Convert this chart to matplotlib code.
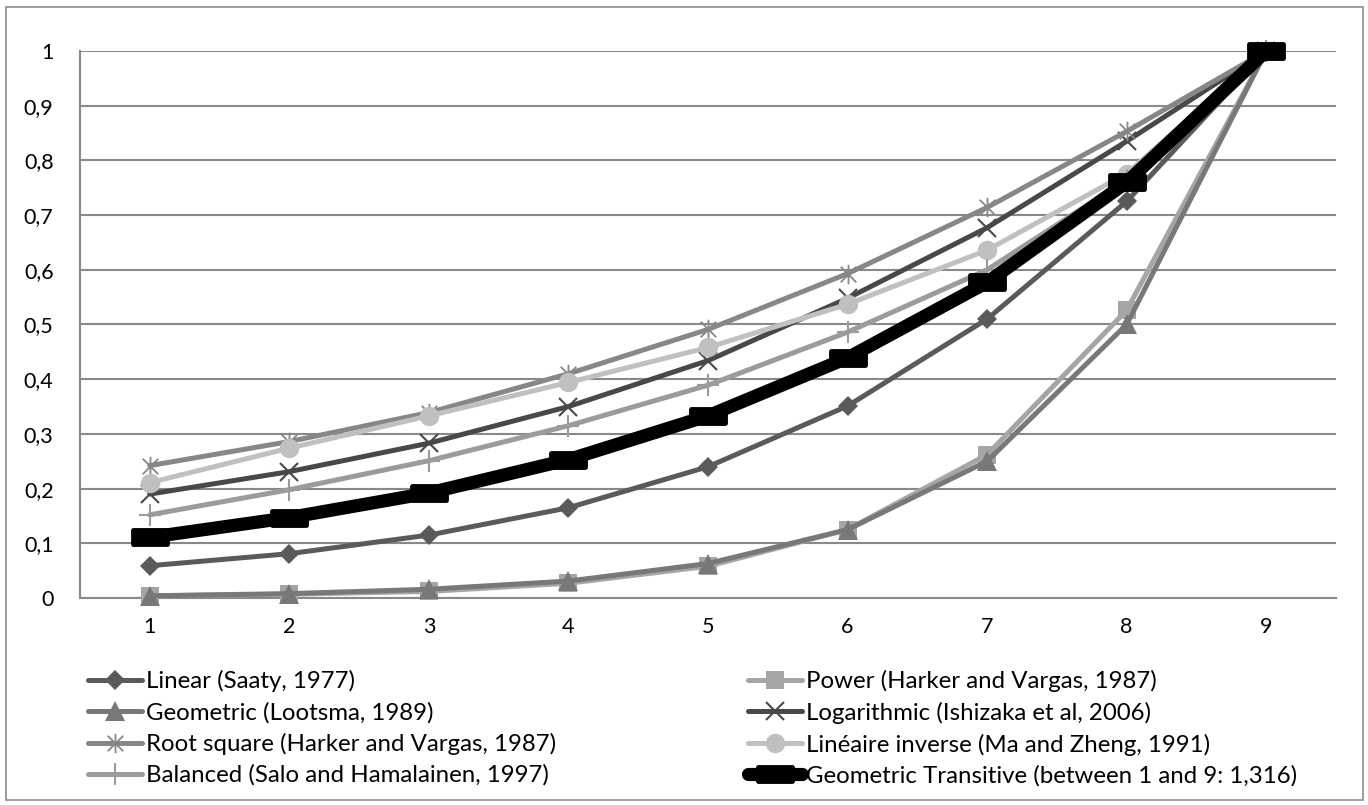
import matplotlib
matplotlib.use("Agg")
import matplotlib.pyplot as plt
from matplotlib.path import Path
from matplotlib.patches import Rectangle

plt.rcParams['font.family'] = ['Lato', 'DejaVu Sans']

categories = ["1", "2", "3", "4", "5", "6", "7", "8", "9"]
yticks = [0, 0.1, 0.2, 0.3, 0.4, 0.5, 0.6, 0.7, 0.8, 0.9, 1.0]
ytick_labels = ["0", "0,1", "0,2", "0,3", "0,4", "0,5", "0,6", "0,7", "0,8", "0,9", "1"]

linear = [0.059, 0.081, 0.115, 0.165, 0.240, 0.351, 0.510, 0.725, 1.0]
power = [0.004, 0.007, 0.012, 0.027, 0.058, 0.125, 0.262, 0.526, 1.0]
geometric = [0.004, 0.008, 0.016, 0.031, 0.063, 0.125, 0.250, 0.500, 1.0]
logarithmic = [0.190, 0.231, 0.283, 0.350, 0.434, 0.548, 0.677, 0.835, 1.0]
root_square = [0.242, 0.286, 0.339, 0.410, 0.491, 0.593, 0.714, 0.853, 1.0]
lin_inverse = [0.211, 0.274, 0.333, 0.394, 0.458, 0.537, 0.636, 0.776, 1.0]
balanced = [0.152, 0.198, 0.251, 0.315, 0.389, 0.486, 0.600, 0.765, 1.0]
geo_transitive = [0.111, 0.147, 0.192, 0.253, 0.333, 0.439, 0.577, 0.760, 1.0]

labels = [
    "Linear (Saaty, 1977)",
    "Power (Harker and Vargas, 1987)",
    "Geometric (Lootsma, 1989)",
    "Logarithmic (Ishizaka et al, 2006)",
    "Root square (Harker and Vargas, 1987)",
    "Linéaire inverse (Ma and Zheng, 1991)",
    "Balanced (Salo and Hamalainen, 1997)",
    "Geometric Transitive (between 1 and 9: 1,316)",
]

W, H = 1368, 805
DPI = 100
fig = plt.figure(figsize=(W / DPI, H / DPI), dpi=DPI)
fig.patch.set_facecolor("white")

# outer chart border
fig.patches.append(Rectangle((6 / W, 1 - 800 / H), (1363 - 6) / W, (800 - 7) / H,
                             transform=fig.transFigure, fill=False,
                             edgecolor="#8c8c8c", linewidth=1.2))

left, right, top, bottom = 80, 1336, 51, 598
ax = fig.add_axes([left / W, 1 - bottom / H, (right - left) / W, (bottom - top) / H])

x = list(range(1, len(categories) + 1))

asterisk = Path([(-1, -1), (1, 1), (-1, 1), (1, -1), (0, -1.25), (0, 1.25)],
                [Path.MOVETO, Path.LINETO, Path.MOVETO, Path.LINETO, Path.MOVETO, Path.LINETO])
gt_box = Path([(-1, -0.38), (1, -0.38), (1, 0.38), (-1, 0.38), (-1, -0.38)],
              [Path.MOVETO, Path.LINETO, Path.LINETO, Path.LINETO, Path.CLOSEPOLY])

lw = 3.6
styles = [
    dict(color="#5a5a5a", marker="D", ms=10.5, mec="#5a5a5a", mfc="#5a5a5a", mew=0),
    dict(color="#a5a5a5", marker="s", ms=13, mec="#a5a5a5", mfc="#a5a5a5", mew=0),
    dict(color="#787878", marker="^", ms=14, mec="#787878", mfc="#787878", mew=0),
    dict(color="#484848", marker="x", ms=13, mec="#484848", mew=1.5),
    dict(color="#878787", marker=asterisk, ms=14, mec="#878787", mfc="none", mew=1.3),
    dict(color="#c0c0c0", marker="o", ms=14, mec="#c0c0c0", mfc="#c0c0c0", mew=0),
    dict(color="#9b9b9b", marker="+", ms=16, mec="#9b9b9b", mew=1.5),
    dict(color="#000000", marker=gt_box, ms=25, mec="#000000", mfc="#000000", mew=3.5,
         lw=9.5),
]
series = [linear, power, geometric, logarithmic, root_square, lin_inverse, balanced, geo_transitive]

handles = []
for i, (vals, st, lab) in enumerate(zip(series, styles, labels)):
    st = dict(st)
    line_w = st.pop("lw", lw)
    h, = ax.plot(x, vals, linewidth=line_w, solid_joinstyle="round", solid_capstyle="round",
                 label=lab, zorder=3 + i, clip_on=False, **st)
    handles.append(h)

ax.set_xlim(0.5, 9.5)
ax.set_ylim(0, 1)
ax.set_xticks(x)
ax.set_xticklabels(categories)
ax.set_yticks(yticks)
ax.set_yticklabels(ytick_labels)
ax.tick_params(axis="both", length=0, labelsize=15.5, colors="black")
ax.tick_params(axis="x", pad=14)
ax.tick_params(axis="y", pad=19)
ax.grid(axis="y", color="#898989", linewidth=1.5)
ax.set_axisbelow(True)
for s in ["top", "right"]:
    ax.spines[s].set_visible(False)
for s in ["left", "bottom"]:
    ax.spines[s].set_color("#898989")
    ax.spines[s].set_linewidth(1.5)

# legends: two columns
leg_kw = dict(frameon=False, fontsize=17.3, handlelength=2.25, handletextpad=0.16,
              labelspacing=0.40, borderpad=0, borderaxespad=0)
left_idx = [0, 2, 4, 6]
right_idx = [1, 3, 5, 7]
leg1 = fig.legend([handles[i] for i in left_idx], [labels[i] for i in left_idx],
                  loc="upper left", bbox_to_anchor=(88 / W, 1 - 670 / H), **leg_kw)
leg2 = fig.legend([handles[i] for i in right_idx], [labels[i] for i in right_idx],
                  loc="upper left", bbox_to_anchor=(748 / W, 1 - 670 / H), **leg_kw)

fig.savefig("out.png", dpi=DPI, facecolor="white")
